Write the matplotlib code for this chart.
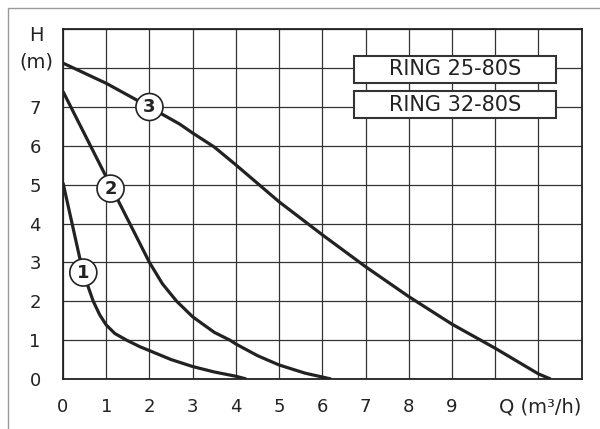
import matplotlib
matplotlib.use("Agg")
import matplotlib.pyplot as plt
from matplotlib.patches import Rectangle

# pump curves (Q in m3/h, H in m)
q1 = [0, 0.39, 0.47, 0.58, 0.7, 0.85, 1.0, 1.2, 1.47, 1.78, 2.0, 2.5, 3.0, 3.5, 4.0, 4.24]
h1 = [5.05, 3.1, 2.74, 2.38, 2.0, 1.65, 1.39, 1.17, 1.0, 0.83, 0.73, 0.5, 0.32, 0.18, 0.07, 0]

q2 = [0, 0.5, 1.0, 1.5, 2.0, 2.3, 2.63, 3.0, 3.5, 3.86, 4.0, 4.5, 5.0, 5.6, 6.2]
h2 = [7.4, 6.3, 5.2, 4.1, 3.0, 2.45, 2.0, 1.6, 1.2, 1.0, 0.9, 0.6, 0.36, 0.15, 0]

q3 = [0, 1, 2, 2.7, 3, 3.5, 4, 5, 6, 7, 8, 9, 10, 11, 11.28]
h3 = [8.13, 7.61, 7.0, 6.56, 6.33, 5.97, 5.51, 4.56, 3.71, 2.89, 2.12, 1.41, 0.79, 0.13, 0]

curve_tags = ["1", "2", "3"]
tag_q = [0.47, 1.1, 2.0]
tag_h = [2.74, 4.9, 7.0]

models = ["RING 25-80S", "RING 32-80S"]
x_labels = ["0", "1", "2", "3", "4", "5", "6", "7", "8", "9"]
y_labels = ["0", "1", "2", "3", "4", "5", "6", "7"]

ink = "#222222"

fig = plt.figure(figsize=(6, 4.29), dpi=100)
ax = fig.add_axes([0.105, 0.1166, 0.8645, 0.8151])

# light outer frame of the sheet
fig.patches.append(Rectangle((8 / 600, -0.1), 1.2, 1.1 - 8 / 429,
                             transform=fig.transFigure, fill=False,
                             edgecolor="#999999", lw=1.0))

ax.set_xlim(0, 12)
ax.set_ylim(0, 9)
ax.set_xticks(range(13))
ax.set_yticks(range(10))
ax.set_xticklabels(x_labels + [""] * (13 - len(x_labels)))
ax.set_yticklabels(y_labels + [""] * (10 - len(y_labels)))
ax.tick_params(length=0, labelsize=13, labelcolor=ink)
ax.tick_params(axis="x", pad=14)
ax.tick_params(axis="y", pad=16)
ax.grid(True, color="#333333", lw=0.9)
ax.set_axisbelow(True)
for s in ax.spines.values():
    s.set_color(ink)
    s.set_linewidth(1.3)

for q, h in [(q1, h1), (q2, h2), (q3, h3)]:
    ax.plot(q, h, color=ink, lw=2.3, solid_capstyle="butt", zorder=3)

for t, x, y in zip(curve_tags, tag_q, tag_h):
    ax.text(x, y, t, fontsize=13, fontweight="bold", color=ink,
            ha="center", va="center", zorder=5,
            bbox=dict(boxstyle="circle,pad=0.25", fc="white", ec=ink, lw=1.2))

# model name boxes
box_y = [7.62, 6.71]
for name, y0 in zip(models, box_y):
    ax.add_patch(Rectangle((6.74, y0), 4.67, 0.70, fc="white", ec="#333333",
                           lw=1.5, zorder=4))
    ax.text(6.74 + 4.67 / 2, y0 + 0.35, name, fontsize=15, color=ink,
            ha="center", va="center", zorder=5)

ax.text(-0.61, 8.85, "H", fontsize=14, color=ink, ha="center", va="center",
        clip_on=False)
ax.text(-0.61, 8.17, "(m)", fontsize=14, color=ink, ha="center", va="center",
        clip_on=False)
ax.text(10.09, -0.72, "Q (m³/h)", fontsize=14, color=ink, ha="left",
        va="center", clip_on=False)

fig.savefig("out.png", dpi=100)
